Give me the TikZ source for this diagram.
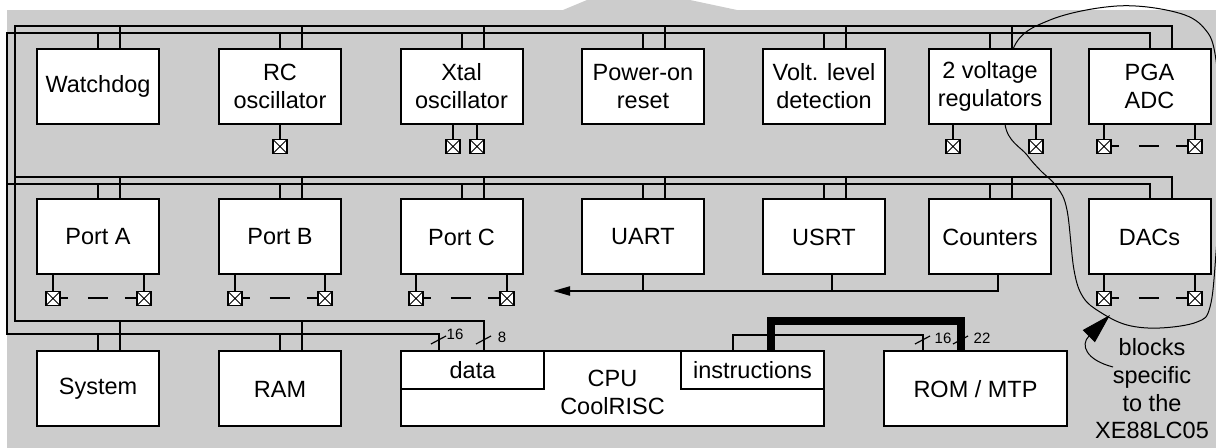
\documentclass[tikz,border=0pt]{standalone}
\usepackage{fontspec}
\setmainfont{Liberation Sans}
\usetikzlibrary{arrows.meta, positioning, calc}

\begin{document}
\begin{tikzpicture}[x=0.5pt, y=-0.5pt,
    % Define the styles of the blocks and the lines
    blk/.style={draw, fill=white, line width=1pt, inner sep=0pt, align=center,
        minimum width=61pt, minimum height=37.5pt,
        font=\fontsize{11.75}{14}\selectfont},
    bus/.style={line width=1pt},
    widebus/.style={line width=4pt},
    pad/.style={draw, fill=white, line width=0.75pt, minimum size=7pt, inner sep=0pt,
        path picture={\draw[line width=0.5pt]
            (path picture bounding box.south west) -- (path picture bounding box.north east)
            (path picture bounding box.north west) -- (path picture bounding box.south east);}},
    padlink/.style={line width=1pt, dash pattern=on 3.5pt off 10pt on 10pt off 8.5pt on 6pt},
    bits/.style={font=\fontsize{7.5}{9}\selectfont, inner sep=0pt}
]
\useasboundingbox (0,0) rectangle (1216,448);
\clip (0,0) rectangle (1216,448);

% Background
\fill[black!20] (7,10) rectangle (1216,448);
\fill[black!20] (563,10) -- (587,0) -- (690,0) -- (737,10) -- cycle;

% Loop round the specific blocks
\draw[line width=0.5pt] plot[smooth cycle, tension=0.6] coordinates {
    (1013,49) (1050,20) (1117,6) (1175,12) (1204,28) (1216,60) (1222,150)
    (1216,253) (1210,307) (1197,322) (1160,328) (1127,325) (1100,312)
    (1083,297) (1074,270) (1067,210) (1057,187) (1040,170) (1027,155) (1005,124)};

% Define the points of the buses
\coordinate (bA) at (15,26);
\coordinate (bB) at (7,33);
\coordinate (cA) at (15,177);
\coordinate (cB) at (7,184);
\coordinate (dA) at (15,321);
\coordinate (dB) at (7,334);

% First row of blocks
\node[blk] (wd)  at (98,86.5)    {Watchdog};
\node[blk] (rc)  at (280,86.5)   {RC\\oscillator};
\node[blk] (xt)  at (461.5,86.5) {Xtal\\oscillator};
\node[blk] (por) at (643,86.5)   {Power-on\\reset};
\node[blk] (vl)  at (824,86.5)   {Volt. level\\detection};
\node[blk] (reg) at (990,86.5)   {2 voltage\\regulators};
\node[blk] (pga) at (1149.5,86.5) {PGA\\ADC};

% Second row of blocks
\node[blk] (pa)   at (98,237)     {Port A};
\node[blk] (pb)   at (280,237)    {Port B};
\node[blk] (pc)   at (461.5,237)  {Port C};
\node[blk] (uart) at (643,237)    {UART};
\node[blk] (usrt) at (824,237)    {USRT};
\node[blk] (cnt)  at (990,237)    {Counters};
\node[blk] (dac)  at (1149.5,237) {DACs};

% Third row of blocks
\node[blk] (sys) at (98,389)  {System};
\node[blk] (ram) at (280,389) {RAM};
\node[blk, minimum width=211.5pt] (cpu) at (612.5,389) {};
\node[blk, minimum width=91.5pt] (rom) at (975.5,389) {ROM / MTP};
\node[blk, minimum width=71.5pt, minimum height=19pt, anchor=north west] (data) at (cpu.north west) {data};
\node[blk, minimum width=71.5pt, minimum height=19pt, anchor=north east] (instr) at (cpu.north east) {instructions};
\node[align=center, font=\fontsize{11.75}{14}\selectfont] (cpuname) at (612.5,392) {CPU\\CoolRISC};

% Draw the buses
\draw[bus] ([xshift=11pt]pga.north) |- (bA) -- (dA) -| (484,351);
\draw[bus] (pga.north) |- (bB) -- (dB) -| (439,351);
\draw[bus] (cA) -| ([xshift=11pt]dac.north);
\draw[bus] (cB) -| (dac.north);

\foreach \n in {wd,rc,xt,por,vl,reg} {
    \coordinate (\n r) at ([xshift=11pt]\n.north);
    \draw[bus] (\n.north) -- (\n.north |- bB);
    \draw[bus] (\n r) -- (\n r |- bA);
}
\foreach \n in {pa,pb,pc,uart,usrt,cnt} {
    \coordinate (\n r) at ([xshift=11pt]\n.north);
    \draw[bus] (\n.north) -- (\n.north |- cB);
    \draw[bus] (\n r) -- (\n r |- cA);
}
\foreach \n in {sys,ram} {
    \coordinate (\n r) at ([xshift=11pt]\n.north);
    \draw[bus] (\n.north) -- (\n.north |- dB);
    \draw[bus] (\n r) -- (\n r |- dA);
}

% Instruction buses to the ROM
\coordinate (ins16) at (733,335);
\coordinate (ins22) at (771,321);
\coordinate (rom16) at (923,351);
\coordinate (rom22) at (961,351);
\draw[bus] (instr.north -| ins16) -- (ins16) -| (rom16);
\draw[widebus] (instr.north -| ins22) -- (ins22) -| (rom22);

% Bus widths
\draw[line width=0.6pt] (439,340) ++(-8,4) -- ++(15,-8);
\draw[line width=0.6pt] (484,340) ++(-8,4) -- ++(15,-8);
\draw[line width=0.6pt] (923,340) ++(-8,4) -- ++(15,-8);
\draw[line width=0.6pt] (961,340) ++(-8,4) -- ++(15,-8);
\node[bits] (w16) at (455,334) {16};
\node[bits] (w8)  at (502,337) {8};
\node[bits] (r16) at (943,338) {16};
\node[bits] (r22) at (982,338) {22};

% Return line to the ports
\coordinate (ret) at (553,291);
\draw[bus, -{Triangle[length=8.5pt, width=4.5pt]}] ([xshift=4pt]cnt.south) |- (ret);
\draw[bus] ([xshift=4pt]usrt.south) -- ([xshift=4pt]usrt.south |- ret);
\draw[bus] (uart.south) -- (uart.south |- ret);

% Pads of the first row
\node[pad] (rcp)  at (280,146.5)  {};
\node[pad] (xtp1) at (453,146.5)  {};
\node[pad] (xtp2) at (477,146.5)  {};
\node[pad] (rgp1) at (953,146.5)  {};
\node[pad] (rgp2) at (1036,146.5) {};
\node[pad] (pgp1) at (1104,146.5) {};
\node[pad] (pgp2) at (1195,146.5) {};
\draw[bus] (rcp.north)  -- (rcp.north |- rc.south);
\draw[bus] (xtp1.north) -- (xtp1.north |- xt.south);
\draw[bus] (xtp2.north) -- (xtp2.north |- xt.south);
\draw[bus] (rgp1.north) -- (rgp1.north |- reg.south);
\draw[bus] (rgp2.north) -- (rgp2.north |- reg.south);
\draw[bus] (pgp1.north) -- (pgp1.north |- pga.south);
\draw[bus] (pgp2.north) -- (pgp2.north |- pga.south);
\draw[padlink] (pgp1.east) -- (pgp2.west);

% Pads of the second row
\node[pad] (pap1) at (53,298.5)   {};
\node[pad] (pap2) at (144,298.5)  {};
\node[pad] (pbp1) at (235,298.5)  {};
\node[pad] (pbp2) at (325,298.5)  {};
\node[pad] (pcp1) at (416,298.5)  {};
\node[pad] (pcp2) at (507,298.5)  {};
\node[pad] (dap1) at (1104,298.5) {};
\node[pad] (dap2) at (1195,298.5) {};
\draw[bus] (pap1.north) -- (pap1.north |- pa.south);
\draw[bus] (pap2.north) -- (pap2.north |- pa.south);
\draw[bus] (pbp1.north) -- (pbp1.north |- pb.south);
\draw[bus] (pbp2.north) -- (pbp2.north |- pb.south);
\draw[bus] (pcp1.north) -- (pcp1.north |- pc.south);
\draw[bus] (pcp2.north) -- (pcp2.north |- pc.south);
\draw[bus] (dap1.north) -- (dap1.north |- dac.south);
\draw[bus] (dap2.north) -- (dap2.north |- dac.south);
\draw[padlink] (pap1.east) -- (pap2.west);
\draw[padlink] (pbp1.east) -- (pbp2.west);
\draw[padlink] (pcp1.east) -- (pcp2.west);
\draw[padlink] (dap1.east) -- (dap2.west);

% Note on the specific blocks
\node[align=center, font=\fontsize{11.75}{13.8}\selectfont] (note) at (1152,389) {blocks\\specific\\to the\\XE88LC05};
\coordinate (tip) at (1110,315);
\draw[line width=0.5pt, -{Triangle[length=15pt, width=8.5pt]}] (1113,367) .. controls (1086,360) and (1080,345) .. (tip);

\end{tikzpicture}
\end{document}
